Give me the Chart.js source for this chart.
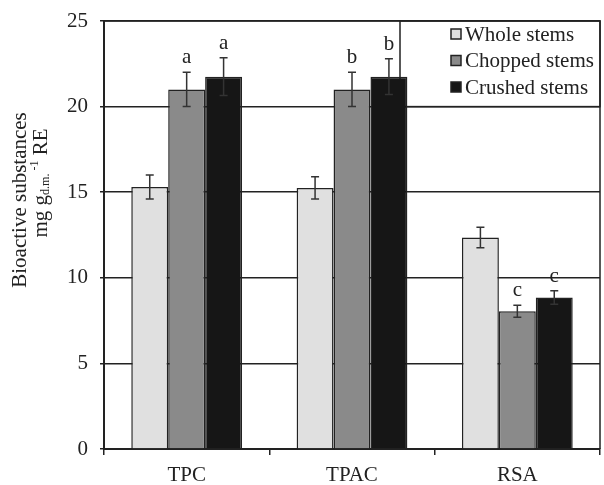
<!DOCTYPE html>
<html>
<head>
<meta charset="utf-8">
<script src="https://cdn.jsdelivr.net/npm/chart.js@4"></script>
<style>
  html, body { margin: 0; padding: 0; background: #fff; }
  #wrap { width: 604px; height: 485px; }
</style>
</head>
<body>
<div id="wrap"><canvas id="myChart" width="604" height="485"></canvas></div>
<script>
// categories and series
var categories = ["TPC", "TPAC", "RSA"];
var seriesNames = ["Whole stems", "Chopped stems", "Crushed stems"];
var whole = [15.3, 15.25, 12.35];
var chopped = [21.0, 21.0, 8.05];
var crushed = [21.75, 21.75, 8.85];
// standard errors
var wholeErr = [0.7, 0.65, 0.6];
var choppedErr = [1.0, 1.0, 0.35];
var crushedErr = [1.1, 1.05, 0.4];
// significance letters
var wholeLetters = ["", "", ""];
var choppedLetters = ["a", "b", "c"];
var crushedLetters = ["a", "b", "c"];
var yTicks = [0, 5, 10, 15, 20, 25];

var colors = ["#e0e0e0", "#8a8a8a", "#161616"];
var errs = [wholeErr, choppedErr, crushedErr];
var letters = [wholeLetters, choppedLetters, crushedLetters];
var serif = "'Liberation Serif', 'DejaVu Serif', serif";

// legend box sits under the bars
const legendBox = {
  id: "legendBox",
  beforeDatasetsDraw(chart) {
    const ctx = chart.ctx, y = chart.scales.y, a = chart.chartArea;
    ctx.save();
    var lx = 400, ly = a.top, lw = a.right - lx, lh = y.getPixelForValue(20) - a.top;
    ctx.fillStyle = "#fff";
    ctx.fillRect(lx, ly, lw, lh);
    ctx.strokeStyle = "#222";
    ctx.lineWidth = 1.5;
    ctx.strokeRect(lx, ly, lw, lh);
    ctx.font = "21px " + serif;
    ctx.textAlign = "left";
    ctx.textBaseline = "middle";
    seriesNames.forEach(function (name, i) {
      var ry = ly + 13 + i * 26.5;
      ctx.fillStyle = colors[i];
      ctx.fillRect(451, ry - 5, 10, 10);
      ctx.strokeStyle = "#222";
      ctx.lineWidth = 1.5;
      ctx.strokeRect(451, ry - 5, 10, 10);
      ctx.fillStyle = "#222";
      ctx.fillText(name, 465, ry + 1);
    });
    ctx.restore();
  }
};

// error bars, letters, frame, y title
const extras = {
  id: "extras",
  afterDatasetsDraw(chart) {
    const ctx = chart.ctx, y = chart.scales.y, a = chart.chartArea;
    ctx.save();
    ctx.strokeStyle = "#333";
    ctx.lineWidth = 1.5;
    chart.data.datasets.forEach(function (ds, i) {
      chart.getDatasetMeta(i).data.forEach(function (bar, j) {
        var v = ds.data[j], e = errs[i][j];
        var top = y.getPixelForValue(v + e), bot = y.getPixelForValue(v - e);
        ctx.beginPath();
        ctx.moveTo(bar.x, top); ctx.lineTo(bar.x, bot);
        ctx.moveTo(bar.x - 4, top); ctx.lineTo(bar.x + 4, top);
        ctx.moveTo(bar.x - 4, bot); ctx.lineTo(bar.x + 4, bot);
        ctx.stroke();
        if (letters[i][j]) {
          ctx.fillStyle = "#222";
          ctx.font = "21px " + serif;
          ctx.textAlign = "center";
          ctx.textBaseline = "bottom";
          ctx.fillText(letters[i][j], bar.x, top - 4);
        }
      });
    });
    // frame
    ctx.strokeStyle = "#222";
    ctx.lineWidth = 1.5;
    ctx.beginPath();
    ctx.moveTo(a.left, a.top); ctx.lineTo(a.right, a.top); ctx.lineTo(a.right, a.bottom);
    ctx.stroke();

    // y title with subscript / superscript
    ctx.fillStyle = "#222";
    ctx.textBaseline = "middle";
    ctx.save();
    ctx.translate(20, 200);
    ctx.rotate(-Math.PI / 2);
    ctx.textAlign = "center";
    ctx.font = "21px " + serif;
    ctx.fillText("Bioactive substances", 0, 0);
    ctx.restore();
    ctx.translate(41, 183);
    ctx.rotate(-Math.PI / 2);
    var parts = [["mg g", 21, 0], ["d.m.", 12, 5], [" -1", 12, -6], [" RE", 21, 0]];
    var total = 0;
    parts.forEach(function (p) { ctx.font = p[1] + "px " + serif; total += ctx.measureText(p[0]).width; });
    var xx = -total / 2;
    ctx.textAlign = "left";
    parts.forEach(function (p) {
      ctx.font = p[1] + "px " + serif;
      ctx.fillText(p[0], xx, p[2]);
      xx += ctx.measureText(p[0]).width;
    });
    ctx.restore();
  }
};

const chart = new Chart("myChart", {
  type: "bar",
  data: {
    labels: categories,
    datasets: [
      { label: seriesNames[0], data: whole, backgroundColor: colors[0] },
      { label: seriesNames[1], data: chopped, backgroundColor: colors[1] },
      { label: seriesNames[2], data: crushed, backgroundColor: colors[2] }
    ].map(function (d) {
      d.borderColor = "#222"; d.borderWidth = 1.5;
      d.categoryPercentage = 0.67; d.barPercentage = 1.0;
      return d;
    })
  },
  options: {
    responsive: false,
    animation: false,
    layout: { padding: { top: 21, right: 4, left: 0, bottom: 0 } },
    plugins: { legend: { display: false }, tooltip: { enabled: false } },
    scales: {
      x: {
        grid: { drawOnChartArea: false, tickLength: 6, color: "#222", lineWidth: 1.5 },
        border: { color: "#222", width: 2 },
        ticks: { color: "#222", font: { family: serif, size: 21 }, padding: 8 },
        afterFit: function (s) { s.height = 36; s.paddingLeft = 0; s.paddingRight = 0; }
      },
      y: {
        min: 0, max: 25,
        afterBuildTicks: function (s) { s.ticks = yTicks.map(function (v) { return { value: v }; }); },
        grid: { color: "#222", lineWidth: 1.5, tickLength: 4 },
        border: { color: "#222", width: 2 },
        ticks: { color: "#222", font: { family: serif, size: 21 }, padding: 12 },
        afterFit: function (s) { s.width = 104; s.paddingTop = 0; s.paddingBottom = 0; }
      }
    }
  },
  plugins: [legendBox, extras]
});
</script>
</body>
</html>
